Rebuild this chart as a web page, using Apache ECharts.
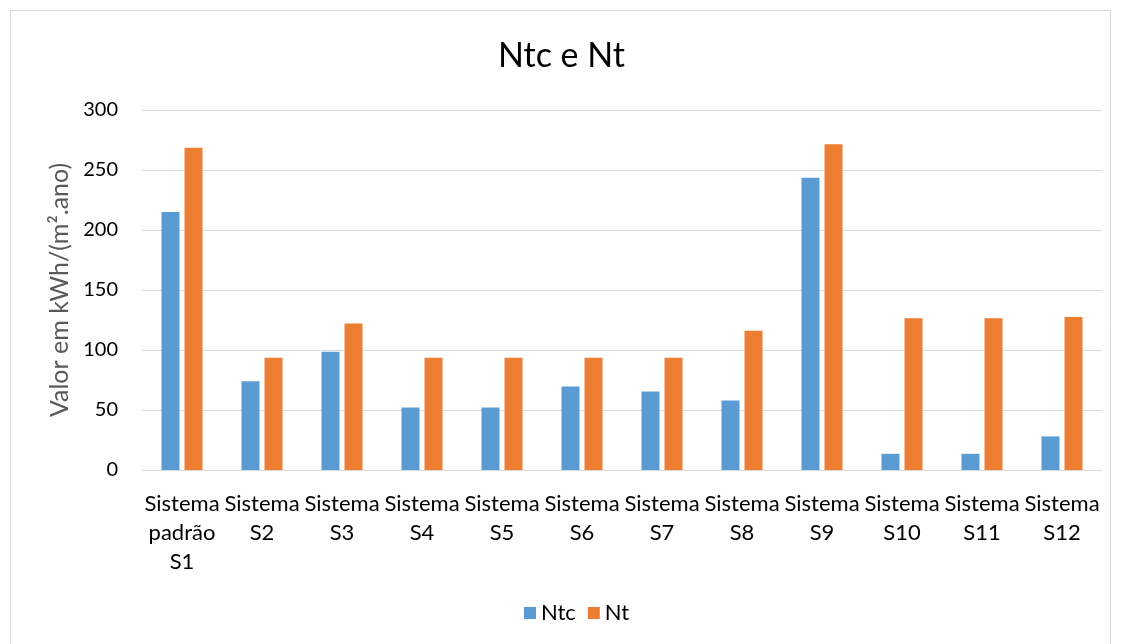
<!DOCTYPE html>
<html><head><meta charset="utf-8">
<script src="https://cdn.jsdelivr.net/npm/echarts@6/dist/echarts.min.js"></script>
<style>html,body{margin:0;padding:0;background:#fff}#c{width:1123px;height:644px}</style>
</head><body><div id="c"></div>
<script>
const categories = ['Sistema\npadrão\nS1','Sistema\nS2','Sistema\nS3','Sistema\nS4','Sistema\nS5','Sistema\nS6','Sistema\nS7','Sistema\nS8','Sistema\nS9','Sistema\nS10','Sistema\nS11','Sistema\nS12'];
const ntc = [215, 74, 98.5, 52, 52, 69.5, 65.5, 58, 243.5, 13.5, 13.5, 28];
const nt = [268.5, 93.5, 122, 93.5, 93.5, 93.5, 93.5, 116, 271.5, 126.5, 126.5, 127.5];
const seriesNames = ['Ntc', 'Nt'];
const chart = echarts.init(document.getElementById('c'));
const FONT = 'Lato, "Open Sans", sans-serif';
chart.setOption({
  animation: false,
  textStyle: {fontFamily: FONT},
  graphic: [{type:'rect', shape:{x:10.5,y:10.5,width:1100,height:640}, style:{fill:'none', stroke:'#D9D9D9', lineWidth:1}}],
  title: {text:'Ntc e Nt', left:'center', top:34, textStyle:{fontFamily:FONT, fontSize:34, fontWeight:'normal', color:'#000'}},
  legend: {bottom:15, left:519, itemWidth:12, itemHeight:12, itemGap:12, icon:'rect',
    textStyle:{fontFamily:FONT, fontSize:22, color:'#000'}},
  grid: {left:142, right:21, top:110, bottom:174},
  xAxis: {type:'category', data:categories,
    axisLine:{lineStyle:{color:'#D9D9D9', width:1}}, axisTick:{show:false},
    axisLabel:{interval:0, fontFamily:FONT, fontSize:22, color:'#000', lineHeight:29, margin:19}},
  yAxis: {type:'value', min:0, max:300, interval:50,
    name:'Valor em kWh/(m².ano)', nameLocation:'middle', nameGap:58,
    nameTextStyle:{fontFamily:FONT, fontSize:25, color:'#595959'},
    axisLine:{show:false}, axisTick:{show:false},
    axisLabel:{fontFamily:FONT, fontSize:20, color:'#000', margin:24},
    splitLine:{lineStyle:{color:'#D9D9D9', width:1}}},
  series: [
    {name:seriesNames[0], type:'bar', data:ntc, barWidth:18, barGap:'28%', itemStyle:{color:'#5B9BD5'}},
    {name:seriesNames[1], type:'bar', data:nt, barWidth:18, itemStyle:{color:'#ED7D31'}}
  ]
});
</script></body></html>
